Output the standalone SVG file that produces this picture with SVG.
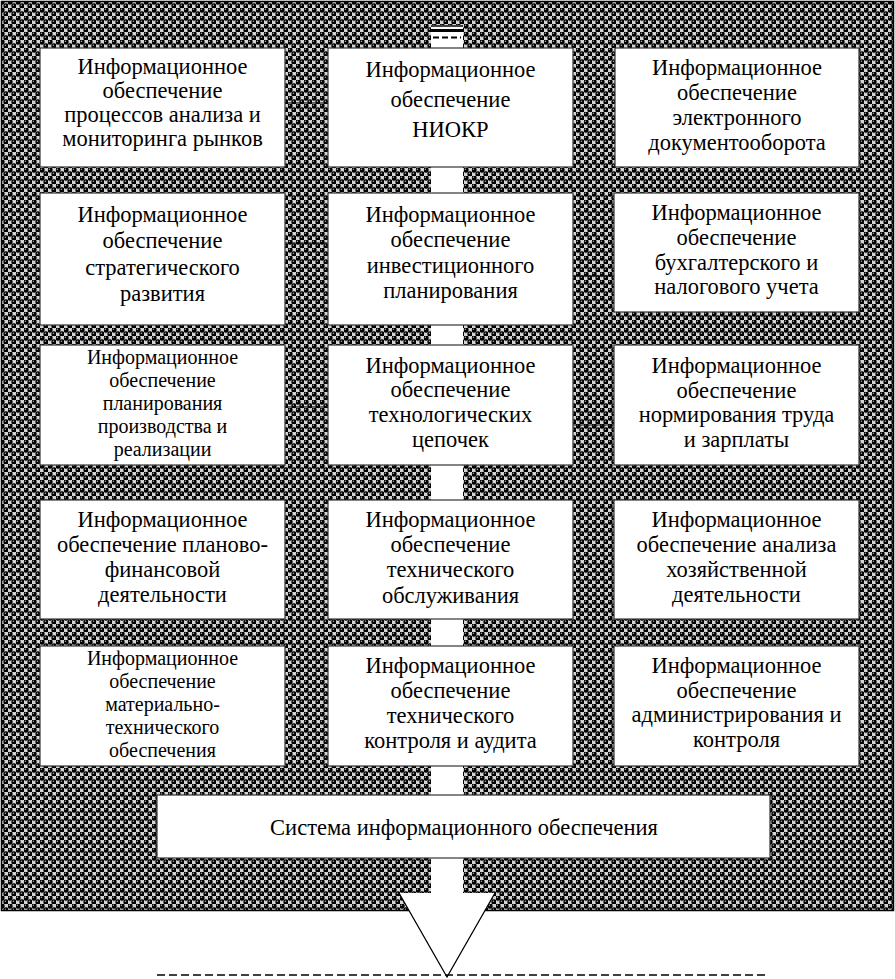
<svg xmlns="http://www.w3.org/2000/svg" width="895" height="979" viewBox="0 0 895 979">
<defs>
<pattern id="balls" x="0" y="0" width="8" height="8" patternUnits="userSpaceOnUse">
<rect width="8" height="8" fill="#fff"/>
<rect x="4" y="0" width="4" height="4" fill="#d4d4d4"/>
<rect x="0" y="4" width="4" height="4" fill="#d4d4d4"/>
<circle cx="2" cy="2" r="2.65" fill="#000"/>
<circle cx="6" cy="6" r="2.65" fill="#000"/>
<circle cx="1.4" cy="1.3" r="0.7" fill="#aaa"/>
<circle cx="5.4" cy="5.3" r="0.7" fill="#aaa"/>
</pattern>
<style>
.box{fill:#fff;stroke:#333;stroke-width:1.2}
.t{font-family:"Liberation Serif","Times New Roman","DejaVu Serif",serif;font-size:22.5px;fill:#000;text-anchor:middle}
.s{font-size:20px}
.c{stroke:#000;stroke-width:1;fill:none}
</style>
</defs>
<rect x="1.5" y="1.5" width="892" height="909" fill="url(#balls)" stroke="#000" stroke-width="1.5"/>
<g id="shaft">
<rect x="431" y="25" width="32" height="870" fill="#fff"/>
<line x1="431" y1="26" x2="463" y2="26" stroke="#000" stroke-width="1.5"/>
<rect x="431" y="29" width="32" height="3" fill="#000"/>
<line x1="433" y1="37.5" x2="461" y2="37.5" stroke="#000" stroke-width="2" stroke-dasharray="6 3"/>
</g>
<g id="connectors">
<line class="c" x1="285" y1="103" x2="328" y2="103"/>
<line class="c" x1="285" y1="243" x2="328" y2="243"/>
<line class="c" x1="285" y1="407" x2="328" y2="407"/>
<line class="c" x1="573" y1="276" x2="614" y2="276"/>
<line class="c" x1="573" y1="425" x2="614" y2="425"/>
</g>
<g id="n1"><rect class="box" x="40" y="48" width="245" height="119"/>
<text class="t"><tspan x="162.5" y="74">Информационное</tspan><tspan x="162.5" y="98">обеспечение</tspan><tspan x="162.5" y="122">процессов анализа и</tspan><tspan x="162.5" y="146">мониторинга рынков</tspan></text></g>
<g id="n2"><rect class="box" x="328" y="48" width="245" height="119"/>
<text class="t"><tspan x="450.5" y="77">Информационное</tspan><tspan x="450.5" y="107">обеспечение</tspan><tspan x="450.5" y="137">НИОКР</tspan></text></g>
<g id="n3"><rect class="box" x="615" y="48" width="244" height="119"/>
<text class="t"><tspan x="737" y="75">Информационное</tspan><tspan x="737" y="100">обеспечение</tspan><tspan x="737" y="125">электронного</tspan><tspan x="737" y="150">документооборота</tspan></text></g>
<g id="n4"><rect class="box" x="40" y="193" width="245" height="132"/>
<text class="t"><tspan x="162.5" y="222">Информационное</tspan><tspan x="162.5" y="248">обеспечение</tspan><tspan x="162.5" y="275">стратегического</tspan><tspan x="162.5" y="301">развития</tspan></text></g>
<g id="n5"><rect class="box" x="328" y="193" width="245" height="132"/>
<text class="t"><tspan x="450.5" y="222">Информационное</tspan><tspan x="450.5" y="247">обеспечение</tspan><tspan x="450.5" y="273">инвестиционного</tspan><tspan x="450.5" y="298">планирования</tspan></text></g>
<g id="n6"><rect class="box" x="614" y="193" width="245" height="119"/>
<text class="t"><tspan x="736.5" y="220">Информационное</tspan><tspan x="736.5" y="245">обеспечение</tspan><tspan x="736.5" y="270">бухгалтерского и</tspan><tspan x="736.5" y="294">налогового учета</tspan></text></g>
<g id="n7"><rect class="box" x="40" y="345" width="245" height="120"/>
<text class="t s"><tspan x="162.5" y="364">Информационное</tspan><tspan x="162.5" y="387">обеспечение</tspan><tspan x="162.5" y="410">планирования</tspan><tspan x="162.5" y="433">производства и</tspan><tspan x="162.5" y="456">реализации</tspan></text></g>
<g id="n8"><rect class="box" x="328" y="345" width="245" height="120"/>
<text class="t"><tspan x="450.5" y="373">Информационное</tspan><tspan x="450.5" y="397">обеспечение</tspan><tspan x="450.5" y="422">технологических</tspan><tspan x="450.5" y="447">цепочек</tspan></text></g>
<g id="n9"><rect class="box" x="614" y="345" width="245" height="120"/>
<text class="t"><tspan x="736.5" y="373">Информационное</tspan><tspan x="736.5" y="398">обеспечение</tspan><tspan x="736.5" y="422">нормирования труда</tspan><tspan x="736.5" y="447">и зарплаты</tspan></text></g>
<g id="n10"><rect class="box" x="40" y="500" width="245" height="119"/>
<text class="t"><tspan x="162.5" y="527">Информационное</tspan><tspan x="162.5" y="552">обеспечение планово-</tspan><tspan x="162.5" y="577">финансовой</tspan><tspan x="162.5" y="602">деятельности</tspan></text></g>
<g id="n11"><rect class="box" x="328" y="500" width="245" height="119"/>
<text class="t"><tspan x="450.5" y="527">Информационное</tspan><tspan x="450.5" y="552">обеспечение</tspan><tspan x="450.5" y="577">технического</tspan><tspan x="450.5" y="603">обслуживания</tspan></text></g>
<g id="n12"><rect class="box" x="614" y="500" width="245" height="119"/>
<text class="t"><tspan x="736.5" y="527">Информационное</tspan><tspan x="736.5" y="552">обеспечение анализа</tspan><tspan x="736.5" y="577">хозяйственной</tspan><tspan x="736.5" y="602">деятельности</tspan></text></g>
<g id="n13"><rect class="box" x="40" y="646" width="245" height="120"/>
<text class="t s"><tspan x="162.5" y="665">Информационное</tspan><tspan x="162.5" y="688">обеспечение</tspan><tspan x="162.5" y="711">материально-</tspan><tspan x="162.5" y="734">технического</tspan><tspan x="162.5" y="757">обеспечения</tspan></text></g>
<g id="n14"><rect class="box" x="328" y="646" width="245" height="120"/>
<text class="t"><tspan x="450.5" y="673">Информационное</tspan><tspan x="450.5" y="698">обеспечение</tspan><tspan x="450.5" y="723">технического</tspan><tspan x="450.5" y="748">контроля и аудита</tspan></text></g>
<g id="n15"><rect class="box" x="614" y="646" width="245" height="120"/>
<text class="t"><tspan x="736.5" y="673">Информационное</tspan><tspan x="736.5" y="698">обеспечение</tspan><tspan x="736.5" y="722">администрирования и</tspan><tspan x="736.5" y="747">контроля</tspan></text></g>
<g id="n16"><rect class="box" x="157" y="795" width="613" height="63"/>
<text class="t" x="464" y="835">Система информационного обеспечения</text></g>
<g id="arrowhead">
<polygon points="399,893 495,893 447,977" fill="#fff"/>
<polyline points="399,893 447,977 495,893" fill="none" stroke="#000" stroke-width="1.3"/>
</g>
<line x1="157" y1="975" x2="767" y2="975" stroke="#000" stroke-width="1.5" stroke-dasharray="8 4"/>
</svg>
